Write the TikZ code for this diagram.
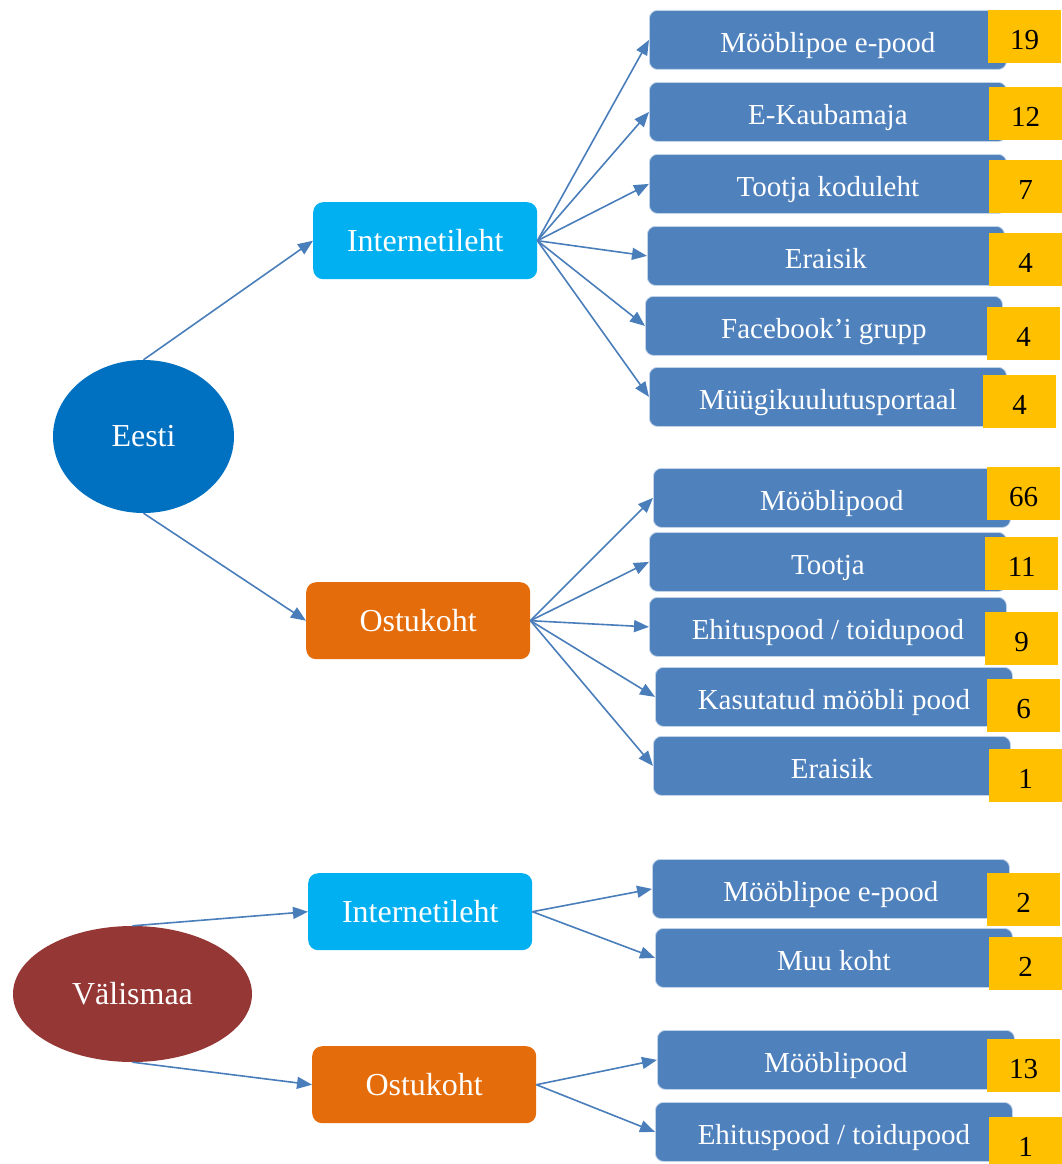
\documentclass[tikz,border=0pt]{standalone}
\usepackage{fontspec}
\setmainfont{Liberation Serif}
\usetikzlibrary{positioning}
\usetikzlibrary{arrows.meta}
\usetikzlibrary{shapes.geometric}
\definecolor{placeblue}{HTML}{4F81BD}
\definecolor{webblue}{HTML}{00B0F0}
\definecolor{shoporange}{HTML}{E46C0A}
\definecolor{homeblue}{HTML}{0070C0}
\definecolor{abroadred}{HTML}{953735}
\definecolor{countyellow}{HTML}{FFC000}
\definecolor{edgeblue}{HTML}{4A7EBB}
\tikzstyle{country} = [ellipse, text=white, inner sep=0pt, font=\fontsize{32}{32}\selectfont]
\tikzstyle{channel} = [rectangle, rounded corners=10pt, text=white, minimum width=224pt, minimum height=77pt, inner sep=0pt, anchor=north west, font=\fontsize{32}{32}\selectfont]
\tikzstyle{place}   = [rectangle, rounded corners=8pt, fill=placeblue, draw=white!65!placeblue, line width=0.8pt, text=white, minimum width=357pt, minimum height=59pt, inner sep=0pt, text height=27pt, text depth=2pt, anchor=north west, font=\fontsize{29}{29}\selectfont]

\begin{document}
\begin{tikzpicture}[x=1pt, y=-1pt,
  count/.style={rectangle, fill=countyellow, minimum width=73pt, minimum height=53pt, inner sep=0pt, text height=25pt, text depth=0pt, anchor=north west, font=\fontsize{29}{29}\selectfont},
  edge/.style={draw=edgeblue, line width=1.6pt, -{Triangle[length=15pt, width=12pt]}}]
%\draw [help lines] (0,0) grid (1061,1164);
\useasboundingbox (0,0) rectangle (1061,1164);

% Define nodes
\node[country, fill=homeblue, minimum width=181pt, minimum height=153pt]  (e) at (143.5,436.5) {Eesti};
\node[country, fill=abroadred, minimum width=239pt, minimum height=136pt] (v) at (132.5,994)   {Välismaa};

\node[channel, fill=webblue]    (ei) at (313,202)  {Internetileht};
\node[channel, fill=shoporange] (eo) at (306,582)  {Ostukoht};
\node[channel, fill=webblue]    (vi) at (308,873)  {Internetileht};
\node[channel, fill=shoporange] (vo) at (312,1046) {Ostukoht};

% Eesti, internetileht
\node[place] (ei1) at (649,10)  {Mööblipoe e-pood};
\node[place] (ei2) at (649,82)  {E-Kaubamaja};
\node[place] (ei3) at (649,154) {Tootja koduleht};
\node[place] (ei4) at (647,226) {Eraisik};
\node[place] (ei5) at (645,296) {Facebook’i grupp};
\node[place] (ei6) at (649,367) {Müügikuulutusportaal};
\node[count] (ei1n) at (988,10)  {19};
\node[count] (ei2n) at (989,87)  {12};
\node[count] (ei3n) at (989,160) {7};
\node[count] (ei4n) at (989,233) {4};
\node[count] (ei5n) at (987,307) {4};
\node[count] (ei6n) at (983,375) {4};

% Eesti, ostukoht
\node[place] (eo1) at (653,468) {Mööblipood};
\node[place] (eo2) at (649,532) {Tootja};
\node[place] (eo3) at (649,597) {Ehituspood / toidupood};
\node[place] (eo4) at (655,667) {Kasutatud mööbli pood};
\node[place] (eo5) at (653,736) {Eraisik};
\node[count] (eo1n) at (987,467) {66};
\node[count] (eo2n) at (985,537) {11};
\node[count] (eo3n) at (985,612) {9};
\node[count] (eo4n) at (987,679) {6};
\node[count] (eo5n) at (989,749) {1};

% Välismaa
\node[place] (vi1) at (652,859)  {Mööblipoe e-pood};
\node[place] (vi2) at (655,928)  {Muu koht};
\node[place] (vo1) at (657,1030) {Mööblipood};
\node[place] (vo2) at (655,1102) {Ehituspood / toidupood};
\node[count] (vi1n) at (987,873)  {2};
\node[count] (vi2n) at (989,937)  {2};
\node[count] (vo1n) at (987,1039) {13};
\node[count] (vo2n) at (989,1117) {1};

% Edges
\draw[edge] (e.north) -- (ei.west);
\draw[edge] (e.south) -- (eo.west);
\draw[edge] (v.north) -- (vi.west);
\draw[edge] (v.south) -- (vo.west);

\draw[edge] (ei.east) -- (ei1.west);
\draw[edge] (ei.east) -- (ei2.west);
\draw[edge] (ei.east) -- (ei3.west);
\draw[edge] (ei.east) -- (ei4.west);
\draw[edge] (ei.east) -- (ei5.west);
\draw[edge] (ei.east) -- (ei6.west);

\draw[edge] (eo.east) -- (eo1.west);
\draw[edge] (eo.east) -- (eo2.west);
\draw[edge] (eo.east) -- (eo3.west);
\draw[edge] (eo.east) -- (eo4.west);
\draw[edge] (eo.east) -- (eo5.west);

\draw[edge] (vi.east) -- (vi1.west);
\draw[edge] (vi.east) -- (vi2.west);
\draw[edge] (vo.east) -- (vo1.west);
\draw[edge] (vo.east) -- (vo2.west);

\end{tikzpicture}
\end{document}
